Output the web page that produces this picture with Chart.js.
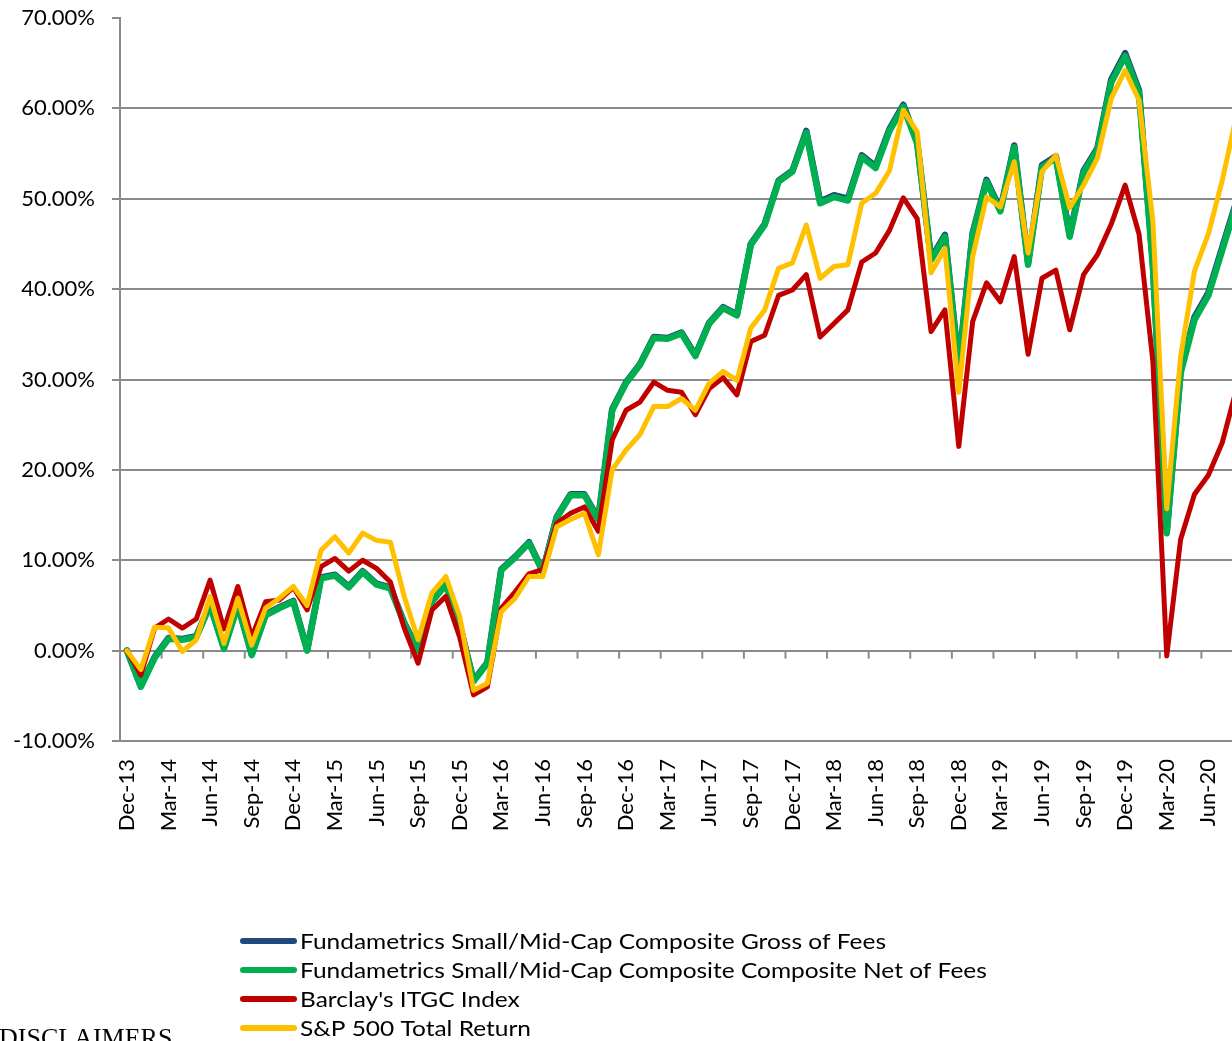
<!DOCTYPE html>
<html>
<head>
<meta charset="utf-8">
<script src="https://cdn.jsdelivr.net/npm/chart.js@4.4.1/dist/chart.umd.min.js"></script>
<style>
  html, body { margin: 0; padding: 0; background: #fff; overflow: hidden; width: 1232px; height: 1041px; }
  #c { position: absolute; left: 0; top: 0; }
</style>
</head>
<body>
<canvas id="c" width="1244" height="1041"></canvas>
<script>
const categories = [
  'Dec-13',
  'Jan-14','Feb-14','Mar-14','Apr-14','May-14','Jun-14','Jul-14','Aug-14','Sep-14','Oct-14','Nov-14','Dec-14',
  'Jan-15','Feb-15','Mar-15','Apr-15','May-15','Jun-15','Jul-15','Aug-15','Sep-15','Oct-15','Nov-15','Dec-15',
  'Jan-16','Feb-16','Mar-16','Apr-16','May-16','Jun-16','Jul-16','Aug-16','Sep-16','Oct-16','Nov-16','Dec-16',
  'Jan-17','Feb-17','Mar-17','Apr-17','May-17','Jun-17','Jul-17','Aug-17','Sep-17','Oct-17','Nov-17','Dec-17',
  'Jan-18','Feb-18','Mar-18','Apr-18','May-18','Jun-18','Jul-18','Aug-18','Sep-18','Oct-18','Nov-18','Dec-18',
  'Jan-19','Feb-19','Mar-19','Apr-19','May-19','Jun-19','Jul-19','Aug-19','Sep-19','Oct-19','Nov-19','Dec-19',
  'Jan-20','Feb-20','Mar-20','Apr-20','May-20','Jun-20','Jul-20','Aug-20'
];

const seriesNames = [
  'Fundametrics Small/Mid-Cap Composite Gross of Fees',
  'Fundametrics Small/Mid-Cap Composite Composite Net of Fees',
  "Barclay's ITGC Index",
  'S&P 500 Total Return'
];

const grossOfFees = [
  0.0,
  -3.9, -0.7, 1.4, 1.3, 1.6, 5.1, 0.3, 5.1, -0.4, 4.0, 4.8, 5.5,
  0.1, 8.1, 8.4, 7.1, 8.8, 7.4, 7.0, 3.1, 0.1, 5.5, 7.4, 2.9,
  -3.3, -1.3, 9.0, 10.4, 12.0, 8.8, 14.8, 17.3, 17.3, 14.6, 26.7, 29.7,
  31.7, 34.7, 34.6, 35.2, 32.7, 36.3, 38.0, 37.2, 45.0, 47.2, 52.0, 53.1,
  57.5, 49.7, 50.4, 50.0, 54.8, 53.6, 57.7, 60.4, 56.3, 43.4, 46.0, 31.6,
  46.2, 52.1, 48.8, 55.9, 42.9, 53.7, 54.7, 46.0, 53.1, 55.6, 63.2, 66.1,
  62.0, 42.8, 13.2, 31.0, 36.9, 39.6, 44.6, 49.6
];

const netOfFees = [
  0.0,
  -4.0, -0.8, 1.3, 1.2, 1.5, 5.0, 0.2, 5.0, -0.5, 3.9, 4.7, 5.4,
  0.0, 8.0, 8.3, 7.0, 8.7, 7.3, 6.9, 3.0, 0.0, 5.4, 7.3, 2.8,
  -3.4, -1.4, 8.9, 10.3, 11.9, 8.7, 14.7, 17.2, 17.2, 14.5, 26.6, 29.6,
  31.6, 34.6, 34.5, 35.1, 32.6, 36.2, 37.9, 37.1, 44.9, 47.1, 51.9, 53.0,
  57.3, 49.5, 50.2, 49.8, 54.6, 53.4, 57.5, 60.2, 56.1, 43.2, 45.8, 31.4,
  46.0, 51.9, 48.6, 55.7, 42.7, 53.5, 54.5, 45.8, 52.9, 55.4, 62.9, 65.8,
  61.7, 42.5, 13.0, 30.7, 36.6, 39.3, 44.3, 49.3
];

const barclayITGC = [
  0.0,
  -2.7, 2.5, 3.5, 2.5, 3.5, 7.8, 2.4, 7.1, 1.5, 5.4, 5.6, 7.0,
  4.5, 9.3, 10.2, 8.8, 10.0, 9.1, 7.6, 2.5, -1.4, 4.5, 6.0, 1.5,
  -4.9, -4.0, 4.7, 6.5, 8.5, 9.0, 14.1, 15.2, 15.9, 13.2, 23.3, 26.6,
  27.5, 29.7, 28.8, 28.6, 26.1, 29.0, 30.2, 28.3, 34.2, 34.9, 39.3, 39.9,
  41.6, 34.7, 36.2, 37.7, 43.0, 44.0, 46.5, 50.1, 47.8, 35.3, 37.7, 22.6,
  36.4, 40.7, 38.6, 43.6, 32.8, 41.2, 42.1, 35.5, 41.6, 43.8, 47.2, 51.5,
  46.1, 32.0, -0.6, 12.3, 17.3, 19.4, 23.0, 28.8
];

const sp500TotalReturn = [
  0.0,
  -2.1, 2.6, 2.5, -0.1, 1.2, 6.0, 0.8, 5.8, 0.6, 4.7, 5.8, 7.1,
  5.0, 11.1, 12.6, 10.8, 13.0, 12.2, 12.0, 6.0, 1.2, 6.4, 8.2, 3.8,
  -4.4, -3.6, 4.3, 5.8, 8.2, 8.2, 13.7, 14.5, 15.2, 10.6, 20.0, 22.2,
  23.9, 27.0, 27.0, 27.9, 26.6, 29.6, 30.9, 29.9, 35.7, 37.7, 42.3, 42.9,
  47.1, 41.2, 42.5, 42.7, 49.5, 50.6, 53.1, 59.8, 57.4, 41.8, 44.5, 28.6,
  43.6, 50.2, 49.1, 54.1, 44.0, 53.0, 54.8, 49.0, 51.5, 54.5, 61.1, 64.2,
  60.9, 47.5, 15.7, 32.5, 42.0, 46.1, 52.0, 59.0
];

const yTickMin = -10, yTickMax = 70, yTickStep = 10;

const gridColor = '#8a8a8a';

Chart.defaults.font.family = 'Lato, "DejaVu Sans", sans-serif';
Chart.defaults.color = '#000';

const zeroTicks = {
  id: 'zeroTicks',
  beforeDatasetsDraw(chart) {
    const { ctx, scales: { x, y } } = chart;
    const y0 = y.getPixelForValue(0);
    ctx.save();
    ctx.strokeStyle = gridColor;
    ctx.lineWidth = 2;
    for (let i = 3; i < categories.length; i += 3) {
      const xb = (x.getPixelForValue(i - 1) + x.getPixelForValue(i)) / 2;
      ctx.beginPath();
      ctx.moveTo(xb, y0);
      ctx.lineTo(xb, y0 + 8);
      ctx.stroke();
    }
    ctx.restore();
  }
};

const customLegend = {
  id: 'customLegend',
  afterDraw(chart) {
    const ctx = chart.ctx;
    ctx.save();
    ctx.font = '22px Lato';
    const sx = 586 / ctx.measureText(chart.data.datasets[0].label).width;
    chart.data.datasets.forEach((ds, i) => {
      const yy = 941 + i * 29;
      ctx.strokeStyle = ds.borderColor;
      ctx.lineWidth = 6;
      ctx.lineCap = 'round';
      ctx.beginPath();
      ctx.moveTo(243, yy);
      ctx.lineTo(294, yy);
      ctx.stroke();
      ctx.save();
      ctx.translate(300, yy);
      ctx.scale(sx, 1);
      ctx.fillStyle = '#000';
      ctx.textBaseline = 'middle';
      ctx.textAlign = 'left';
      ctx.fillText(ds.label, 0, 1);
      ctx.restore();
    });
    ctx.font = '26px "Liberation Serif", "Times New Roman", serif';
    ctx.fillStyle = '#000';
    ctx.textBaseline = 'alphabetic';
    ctx.textAlign = 'left';
    ctx.fillText('DISCLAIMERS', -1, 1046);
    ctx.restore();
  }
};

new Chart(document.getElementById('c'), {
  type: 'line',
  data: {
    labels: categories,
    datasets: [
      { label: seriesNames[0], data: grossOfFees, borderColor: '#1F497D', borderWidth: 6.5, order: 3 },
      { label: seriesNames[1], data: netOfFees, borderColor: '#00B050', borderWidth: 6.5, order: 2 },
      { label: seriesNames[2], data: barclayITGC, borderColor: '#C00000', borderWidth: 5, order: 1 },
      { label: seriesNames[3], data: sp500TotalReturn, borderColor: '#FFC000', borderWidth: 5, order: 0 }
    ]
  },
  plugins: [zeroTicks, customLegend],
  options: {
    responsive: false,
    animation: false,
    devicePixelRatio: 1,
    layout: { padding: { top: 18, right: 1, left: 0, bottom: 0 } },
    plugins: { legend: { display: false }, tooltip: { enabled: false } },
    elements: {
      point: { radius: 0 },
      line: { tension: 0, borderCapStyle: 'round', borderJoinStyle: 'round', fill: false }
    },
    scales: {
      x: {
        offset: true,
        grid: { display: false },
        border: { display: false },
        ticks: {
          autoSkip: false,
          minRotation: 90,
          maxRotation: 90,
          padding: 10,
          font: { size: 22 },
          color: '#000',
          callback: (v, i) => (i % 3 === 0 ? categories[i] : '')
        },
        afterFit: s => { s.height = 300; s.paddingLeft = 0; s.paddingRight = 0; }
      },
      y: {
        min: yTickMin,
        max: yTickMax,
        ticks: {
          stepSize: yTickStep,
          padding: 17,
          font: { size: 22 },
          color: '#000',
          callback: v => v.toFixed(2) + '%'
        },
        grid: {
          color: c => (c.tick && c.tick.value === yTickMax ? 'rgba(0,0,0,0)' : gridColor),
          tickColor: gridColor,
          tickLength: 8,
          lineWidth: 2
        },
        border: { display: true, color: gridColor, width: 2 },
        afterFit: s => { s.width = 120; s.paddingTop = 0; s.paddingBottom = 0; }
      }
    }
  }
});
</script>
</body>
</html>
